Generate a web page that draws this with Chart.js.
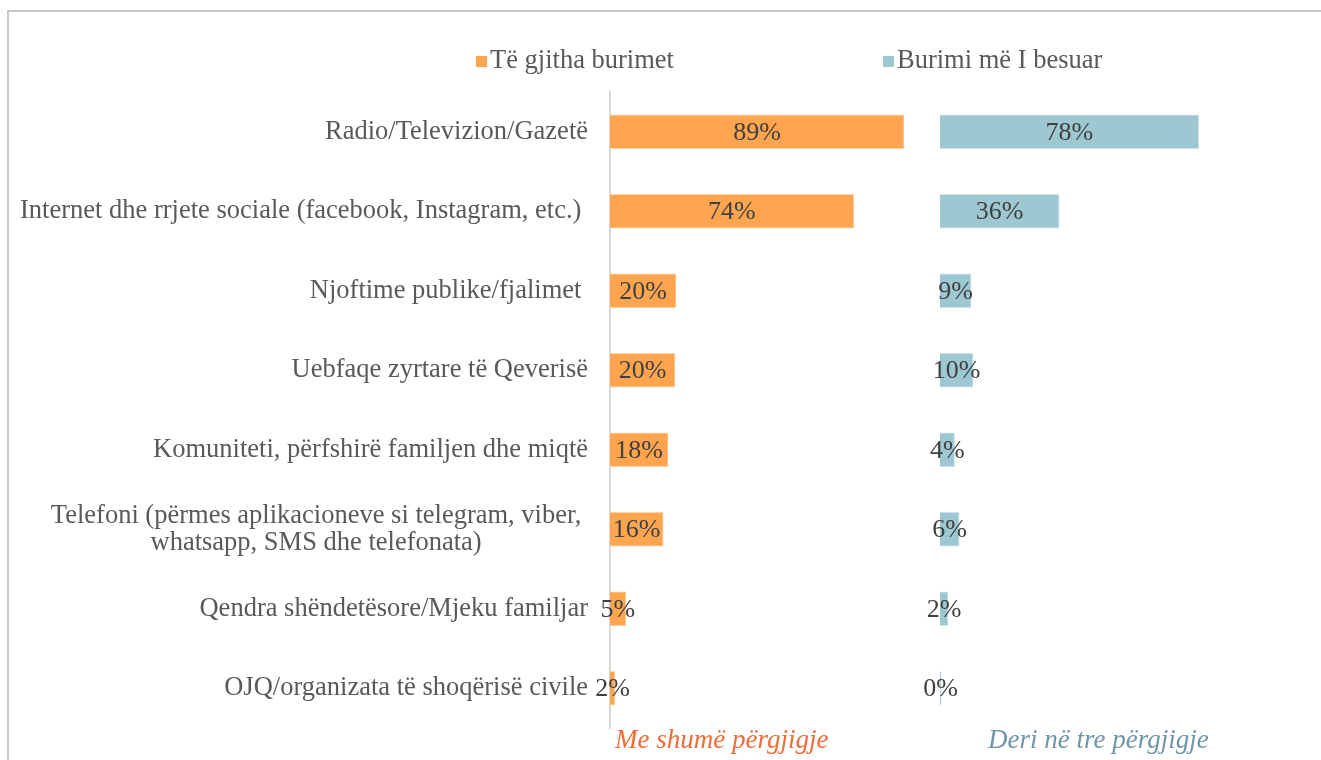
<!DOCTYPE html>
<html>
<head>
<meta charset="utf-8">
<script src="https://cdn.jsdelivr.net/npm/chart.js@4.4.1/dist/chart.umd.min.js"></script>
<style>
  html, body { margin: 0; padding: 0; background: #fff; }
  #frame { position: absolute; left: 7px; top: 10px; width: 1400px; height: 800px;
           border-left: 2px solid #c8c8c8; border-top: 2px solid #c8c8c8; }
  #wrap { position: absolute; left: 0; top: 0; width: 1321px; height: 760px; }
</style>
</head>
<body>
<div id="frame"></div>
<div id="wrap"><canvas id="chart"></canvas></div>
<script>
// Data
const categories = [
    'Radio/Televizion/Gazetë',
    'Internet dhe rrjete sociale (facebook, Instagram, etc.) ',
    'Njoftime publike/fjalimet ',
    'Uebfaqe zyrtare të Qeverisë',
    'Komuniteti, përfshirë familjen dhe miqtë',
    ['Telefoni (përmes aplikacioneve si telegram, viber, ', 'whatsapp, SMS dhe telefonata) '],
    'Qendra shëndetësore/Mjeku familjar',
    'OJQ/organizata të shoqërisë civile'
];
const allSources = [89.1, 73.9, 20.0, 19.7, 17.6, 16.1, 4.8, 1.5];
const trustedSource = [78.4, 36.1, 9.4, 10.0, 4.4, 5.8, 2.4, 0];
const seriesNames = ['Të gjitha burimet', 'Burimi më I besuar'];
const panelTitles = ['Me shumë përgjigje', 'Deri në tre përgjigje'];

const FONT = '"Liberation Serif", Georgia, serif';
const orange = '#FFA54F';
const teal = '#9DC8D2';

// value labels in the middle of each bar
const valueLabels = {
    id: 'valueLabels',
    afterDatasetsDraw(chart) {
        const ctx = chart.ctx;
        ctx.save();
        ctx.font = '26px ' + FONT;
        ctx.fillStyle = '#404040';
        ctx.textAlign = 'center';
        ctx.textBaseline = 'middle';
        chart.data.datasets.forEach((ds, di) => {
            chart.getDatasetMeta(di).data.forEach((bar, i) => {
                ctx.fillText(Math.round(ds.data[i]) + '%', (bar.x + bar.base) / 2, bar.y + 1);
            });
        });
        ctx.restore();
    }
};

// category labels, right aligned, multi-line centred
const categoryLabels = {
    id: 'categoryLabels',
    afterDraw(chart) {
        const ctx = chart.ctx;
        const yScale = chart.scales.y;
        const right = chart.chartArea.left - 22;
        const lineGap = 27;
        ctx.save();
        ctx.font = '26.5px ' + FONT;
        ctx.fillStyle = '#595959';
        ctx.textBaseline = 'middle';
        ctx.textAlign = 'center';
        categories.forEach((lab, i) => {
            const lines = Array.isArray(lab) ? lab : [lab];
            const w = Math.max(...lines.map(l => ctx.measureText(l).width));
            const y0 = yScale.getPixelForValue(i) - (lines.length - 1) * lineGap / 2;
            lines.forEach((l, j) => ctx.fillText(l, right - w / 2, y0 + j * lineGap));
        });
        ctx.restore();
    }
};

// legend and panel titles
const decorations = {
    id: 'decorations',
    afterDraw(chart) {
        const ctx = chart.ctx;
        const colors = [orange, teal];
        const starts = [476, 883];
        ctx.save();
        ctx.font = '26.5px ' + FONT;
        ctx.textBaseline = 'middle';
        ctx.textAlign = 'left';
        seriesNames.forEach((name, i) => {
            ctx.fillStyle = colors[i];
            ctx.fillRect(starts[i], 56, 11, 11);
            ctx.fillStyle = '#595959';
            ctx.fillText(name, starts[i] + 14, 61);
        });
        ctx.font = 'italic 27px ' + FONT;
        ctx.fillStyle = '#F26B38';
        ctx.fillText(panelTitles[0], chart.scales.x1.getPixelForValue(0) + 5, 741);
        ctx.fillStyle = '#6F95A9';
        ctx.fillText(panelTitles[1], chart.scales.x2.getPixelForValue(0) + 48, 741);
        ctx.restore();
    }
};

const ctx = document.getElementById('chart').getContext('2d');
new Chart(ctx, {
    type: 'bar',
    data: {
        labels: categories,
        datasets: [{
            label: seriesNames[0],
            data: allSources,
            xAxisID: 'x1',
            backgroundColor: orange,
            borderColor: '#FFD3A8',
            borderWidth: 1,
            grouped: false,
            barThickness: 34
        }, {
            label: seriesNames[1],
            data: trustedSource,
            xAxisID: 'x2',
            backgroundColor: teal,
            borderColor: '#CDE3E9',
            borderWidth: 1,
            grouped: false,
            barThickness: 34,
            minBarLength: 1
        }]
    },
    options: {
        indexAxis: 'y',
        responsive: true,
        maintainAspectRatio: false,
        animation: false,
        layout: { padding: { left: 610, right: 51, top: 92, bottom: 32 } },
        plugins: {
            legend: { display: false },
            tooltip: { enabled: false }
        },
        scales: {
            y: {
                ticks: { display: false },
                grid: { display: false, drawTicks: false },
                border: { display: true, color: '#D9D9D9', width: 2 }
            },
            x1: {
                position: 'bottom', stack: 'panels', stackWeight: 1,
                min: 0, max: 100, display: false
            },
            x2: {
                position: 'bottom', stack: 'panels', stackWeight: 1,
                min: 0, max: 100, display: false
            }
        }
    },
    plugins: [valueLabels, categoryLabels, decorations]
});
</script>
</body>
</html>
